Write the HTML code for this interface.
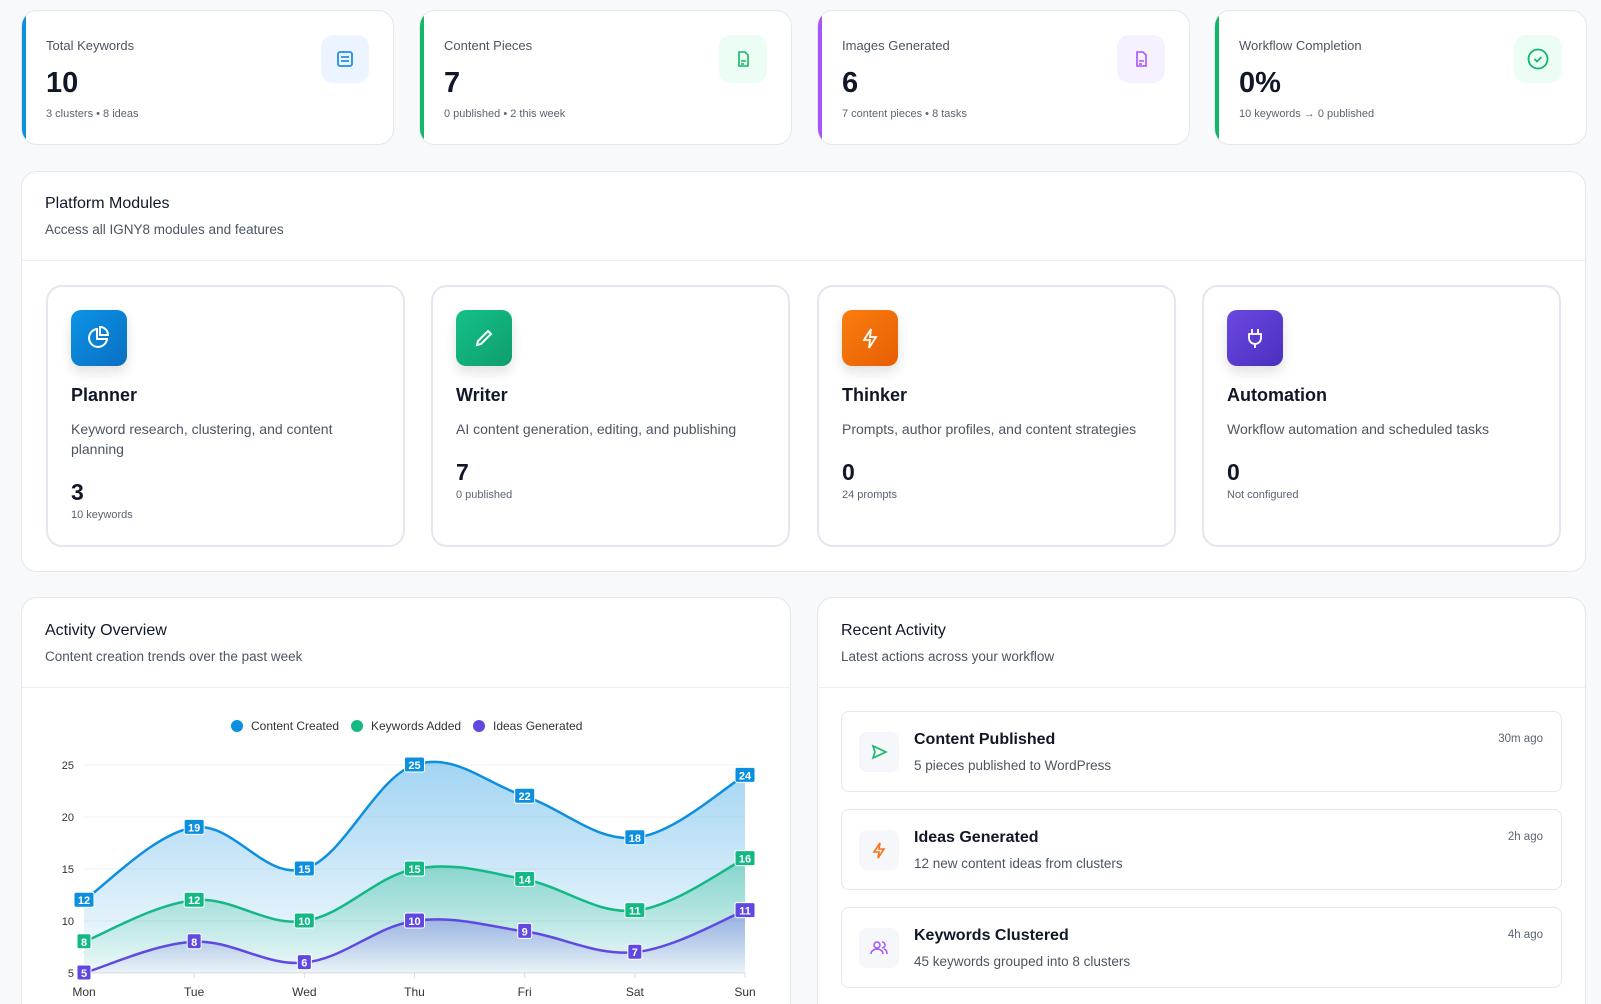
<!DOCTYPE html>
<html style="width:1601px;height:1004px;overflow:hidden"><head><meta charset="utf-8"><style>
*{box-sizing:border-box;margin:0;padding:0}
body{width:1601px;height:1004px;background:#f8f9fb;font-family:"Liberation Sans",sans-serif;position:relative;overflow:hidden;color:#1a2233}
.card{position:absolute;background:#fff;border:1px solid #e4e7ec;border-radius:16px}
.stat{top:10px;height:135px;width:373px;overflow:hidden}
.stat .bar{position:absolute;left:0;top:0;bottom:0;width:4px}
.stat .lb{position:absolute;left:24px;top:27px;font-size:13px;color:#4b5563}
.stat .num{position:absolute;left:24px;top:56px;font-size:29px;font-weight:bold;color:#101828}
.stat .sub{position:absolute;left:24px;top:97px;font-size:11px;color:#5b6474}
.stat .ic{position:absolute;right:24px;top:24px;width:48px;height:48px;border-radius:12px;display:flex;align-items:center;justify-content:center}
.mod{position:absolute;top:285px;height:262px;width:359px;border:2px solid #e3e8f0;border-radius:16px;background:#fff}
.mod .ic{position:absolute;left:23px;top:23px;width:56px;height:56px;border-radius:10px;display:flex;align-items:center;justify-content:center;box-shadow:0 6px 12px rgba(0,0,0,.12)}
.mod .t{position:absolute;left:23px;top:98px;font-size:18px;font-weight:bold;color:#101828}
.mod .d{position:absolute;left:23px;top:132px;font-size:14px;line-height:20px;color:#4b5563;width:300px}
.mod .n{position:absolute;left:23px;font-size:23px;font-weight:bold;color:#101828}
.mod .s{position:absolute;left:23px;font-size:11px;color:#5b6474}
.h{position:absolute;font-size:16px;color:#101828}
.hs{position:absolute;font-size:13.5px;color:#4b5563}
.item{position:absolute;left:841px;width:721px;height:81px;border:1px solid #e4e7ec;border-radius:8px;background:#fff}
.item .ic{position:absolute;left:17px;top:20px;width:40px;height:40px;border-radius:8px;background:#f5f7fa;display:flex;align-items:center;justify-content:center}
.item .t{position:absolute;left:72px;top:19px;font-size:16px;font-weight:bold;color:#101828}
.item .s{position:absolute;left:72px;top:46px;font-size:13.5px;color:#4b5563}
.item .tm{position:absolute;right:18px;top:21px;font-size:11.5px;color:#5b6474}
</style></head><body>

<div class="card stat" style="left:21px"><div class="bar" style="background:#0b8fde"></div><div class="lb">Total Keywords</div><div class="num">10</div><div class="sub">3 clusters • 8 ideas</div>
<div class="ic" style="background:#ecf5ff"><svg width="20" height="20" viewBox="0 0 20 20" fill="none" stroke="#1e90e6" stroke-width="1.8"><rect x="3" y="3" width="14" height="14" rx="2"/><path d="M6 8h8M6 12h8"/></svg></div></div>
<div class="card stat" style="left:419px"><div class="bar" style="background:#12b76a"></div><div class="lb">Content Pieces</div><div class="num">7</div><div class="sub">0 published • 2 this week</div>
<div class="ic" style="background:#ecfdf3"><svg width="20" height="20" viewBox="0 0 20 20" fill="none" stroke="#12b76a" stroke-width="1.6"><path d="M6 3h6l3 3v11H6z"/><path d="M8 12h5M8 15h3"/></svg></div></div>
<div class="card stat" style="left:817px"><div class="bar" style="background:#a855f7"></div><div class="lb">Images Generated</div><div class="num">6</div><div class="sub">7 content pieces • 8 tasks</div>
<div class="ic" style="background:#f7f0ff"><svg width="20" height="20" viewBox="0 0 20 20" fill="none" stroke="#a855f7" stroke-width="1.6"><path d="M6 3h6l3 3v11H6z"/><path d="M8 12h5M8 15h3"/></svg></div></div>
<div class="card stat" style="left:1214px"><div class="bar" style="background:#12b76a"></div><div class="lb">Workflow Completion</div><div class="num">0%</div><div class="sub">10 keywords → 0 published</div>
<div class="ic" style="background:#ecfdf3"><svg width="22" height="22" viewBox="0 0 22 22" fill="none" stroke="#12b76a" stroke-width="1.8"><circle cx="11" cy="11" r="9.5"/><path d="M7.5 11l2.5 2.5 4.5-4.5"/></svg></div></div>

<div class="card" style="left:21px;top:171px;width:1565px;height:401px">
<div style="position:absolute;left:0;right:0;top:88px;border-top:1px solid #eceef2"></div></div>
<div class="h" style="left:45px;top:195px">Platform Modules</div>
<div class="hs" style="left:45px;top:222px">Access all IGNY8 modules and features</div>

<div class="mod" style="left:46px"><div class="ic" style="background:linear-gradient(135deg,#0b93e6,#0a6fc2)"><svg width="28" height="28" viewBox="0 0 28 28" fill="none" stroke="#fff" stroke-width="2"><path d="M12 5a9 9 0 1 0 10 10H12z"/><path d="M15 3v8h8a8 8 0 0 0-8-8z"/></svg></div>
<div class="t">Planner</div><div class="d">Keyword research, clustering, and content planning</div><div class="n" style="top:192px">3</div><div class="s" style="top:222px">10 keywords</div></div>
<div class="mod" style="left:431px"><div class="ic" style="background:linear-gradient(135deg,#14c08a,#0f9e6c)"><svg width="26" height="26" viewBox="0 0 26 26" fill="none" stroke="#fff" stroke-width="2"><path d="M6 20l1-4 10-10 3 3-10 10z"/></svg></div>
<div class="t">Writer</div><div class="d">AI content generation, editing, and publishing</div><div class="n" style="top:172px">7</div><div class="s" style="top:202px">0 published</div></div>
<div class="mod" style="left:817px"><div class="ic" style="background:linear-gradient(135deg,#fb7d0f,#e65f04)"><svg width="26" height="26" viewBox="0 0 26 26" fill="none" stroke="#fff" stroke-width="1.8"><path d="M14 4l-7 11h6l-1 8 7-11h-6z"/></svg></div>
<div class="t">Thinker</div><div class="d">Prompts, author profiles, and content strategies</div><div class="n" style="top:172px">0</div><div class="s" style="top:202px">24 prompts</div></div>
<div class="mod" style="left:1202px"><div class="ic" style="background:linear-gradient(135deg,#6a48e0,#4c2fc0)"><svg width="26" height="26" viewBox="0 0 26 26" fill="none" stroke="#fff" stroke-width="1.8"><path d="M10 4v5M16 4v5M7 9h12v4a6 6 0 0 1-12 0zM13 19v4"/></svg></div>
<div class="t">Automation</div><div class="d">Workflow automation and scheduled tasks</div><div class="n" style="top:172px">0</div><div class="s" style="top:202px">Not configured</div></div>

<div class="card" style="left:21px;top:597px;width:770px;height:440px"><div style="position:absolute;left:0;right:0;top:89px;border-top:1px solid #eceef2"></div></div>
<div class="h" style="left:45px;top:622px">Activity Overview</div>
<div class="hs" style="left:45px;top:649px">Content creation trends over the past week</div>

<div class="card" style="left:817px;top:597px;width:769px;height:440px"><div style="position:absolute;left:0;right:0;top:89px;border-top:1px solid #eceef2"></div></div>
<div class="h" style="left:841px;top:622px">Recent Activity</div>
<div class="hs" style="left:841px;top:649px">Latest actions across your workflow</div>

<div class="item" style="top:711px"><div class="ic"><svg width="20" height="20" viewBox="0 0 20 20" fill="none" stroke="#12b76a" stroke-width="1.6"><path d="M4 4l13 6-13 6 2-6z"/></svg></div><div class="t">Content Published</div><div class="s">5 pieces published to WordPress</div><div class="tm">30m ago</div></div>
<div class="item" style="top:809px"><div class="ic"><svg width="20" height="20" viewBox="0 0 20 20" fill="none" stroke="#f97316" stroke-width="1.6"><path d="M11 3l-6 9h5l-1 6 6-9h-5z"/></svg></div><div class="t">Ideas Generated</div><div class="s">12 new content ideas from clusters</div><div class="tm">2h ago</div></div>
<div class="item" style="top:907px"><div class="ic"><svg width="20" height="20" viewBox="0 0 20 20" fill="none" stroke="#a855f7" stroke-width="1.5"><circle cx="8" cy="7" r="3"/><path d="M2 16c0-3 3-5 6-5s6 2 6 5M13 4a3 3 0 0 1 0 6M15 11c2 .5 3 2 3 5"/></svg></div><div class="t">Keywords Clustered</div><div class="s">45 keywords grouped into 8 clusters</div><div class="tm">4h ago</div></div>

<svg id="ch" style="position:absolute;left:0;top:0" width="1601" height="1004" font-family="Liberation Sans, sans-serif">
<defs>
<linearGradient id="g0" x1="0" y1="0" x2="0" y2="1"><stop offset="0" stop-color="#0b8fde" stop-opacity=".38"/><stop offset="1" stop-color="#0b8fde" stop-opacity=".03"/></linearGradient>
<linearGradient id="g1" x1="0" y1="0" x2="0" y2="1"><stop offset="0" stop-color="#14b885" stop-opacity=".38"/><stop offset="1" stop-color="#14b885" stop-opacity=".03"/></linearGradient>
<linearGradient id="g2" x1="0" y1="0" x2="0" y2="1"><stop offset="0" stop-color="#6049e0" stop-opacity=".35"/><stop offset="1" stop-color="#6049e0" stop-opacity=".03"/></linearGradient>
</defs>
<g font-size="12" fill="#333">
<circle cx="237" cy="726" r="6" fill="#0b8fde"/><text x="251" y="730">Content Created</text>
<circle cx="357" cy="726" r="6" fill="#14b885"/><text x="371" y="730">Keywords Added</text>
<circle cx="479" cy="726" r="6" fill="#6049e0"/><text x="493" y="730">Ideas Generated</text>
</g>
<g id="grid"></g><g id="series"></g><g id="labels"></g>
</svg>
<script>
var X0=84,DX=110.17,days=["Mon","Tue","Wed","Thu","Fri","Sat","Sun"];
function Y(v){return 973-(v-5)*10.4}
var data=[[12,19,15,25,22,18,24],[8,12,10,15,14,11,16],[5,8,6,10,9,7,11]];
var cols=["#0b8fde","#14b885","#6049e0"];
var ns="http://www.w3.org/2000/svg";
function el(t,a,p,txt){var e=document.createElementNS(ns,t);for(var k in a)e.setAttribute(k,a[k]);if(txt!=null)e.textContent=txt;p.appendChild(e);return e}
var grid=document.getElementById("grid"),ser=document.getElementById("series"),lab=document.getElementById("labels");
[5,10,15,20,25].forEach(function(v){el("line",{x1:X0,x2:745,y1:Y(v),y2:Y(v),stroke:v==5?"#e0e0e0":"#f1f1f1","stroke-width":1},grid);el("text",{x:74,y:Y(v)+4,"font-size":11,fill:"#333","text-anchor":"end"},grid,v)});
days.forEach(function(d,i){var x=X0+i*DX;el("line",{x1:x,x2:x,y1:973,y2:978,stroke:"#ddd"},grid);el("text",{x:x,y:996,"font-size":12,fill:"#333","text-anchor":"middle"},grid,d)});
function path(p){var s="M"+p[0][0]+","+p[0][1];for(var i=0;i<p.length-1;i++){var p0=p[i-1]||p[i],p1=p[i],p2=p[i+1],p3=p[i+2]||p2;var t=0.18;
s+=" C"+(p1[0]+(p2[0]-p0[0])*t)+","+(p1[1]+(p2[1]-p0[1])*t)+" "+(p2[0]-(p3[0]-p1[0])*t)+","+(p2[1]-(p3[1]-p1[1])*t)+" "+p2[0]+","+p2[1]}return s}
data.forEach(function(d,k){var p=d.map(function(v,i){return[X0+i*DX,Y(v)]});var s=path(p);
el("path",{d:s+" L745,973 L84,973 Z",fill:"url(#g"+k+")"},ser);
el("path",{d:s,fill:"none",stroke:cols[k],"stroke-width":2.5},ser);
p.forEach(function(q,i){var t=String(d[i]);var w=t.length>1?20:14;
el("rect",{x:q[0]-w/2,y:q[1]-8,width:w,height:15,rx:2,fill:cols[k],stroke:"#fff","stroke-width":1},lab);
el("text",{x:q[0],y:q[1]+4,"font-size":11,"font-weight":"bold",fill:"#fff","text-anchor":"middle"},lab,t)})});
</script>
</body></html>
